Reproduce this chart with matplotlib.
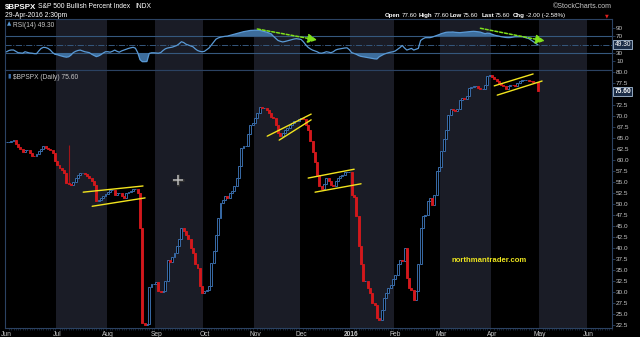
import numpy as np
import pandas as pd
import matplotlib
matplotlib.use("Agg")
import matplotlib.pyplot as plt
import matplotlib.transforms as mtransforms

plt.rcParams['font.family'] = ['Liberation Sans', 'DejaVu Sans']

# trading calendar (index = trading day)
holidays = ['2015-07-03', '2015-09-07', '2015-11-26', '2015-12-25', '2016-01-01',
            '2016-01-18', '2016-02-15', '2016-03-25', '2016-05-30']
days = pd.bdate_range('2015-06-01', '2016-06-17')
days = days[~days.isin(pd.to_datetime(holidays))]

# $BPSPX daily close, Jun 1 2015 .. Apr 29 2016
closes = [
    64.0, 64.0, 64.2, 64.6, 63.6, 63.0, 62.4, 61.8, 62.2, 62.2, 61.6, 61.0, 60.8, 61.4, 62.0, 62.6,
    63.2, 62.8, 62.4, 62.2, 61.6, 59.7,
    58.9, 58.2, 57.8, 57.1, 54.8, 54.6, 54.4, 55.1, 55.8, 56.6, 57.1, 57.1, 56.8, 56.4, 55.9, 55.2,
    54.4, 50.6, 50.9, 51.4, 51.8, 52.2,
    52.8, 53.2, 53.2, 52.1, 52.5, 52.5, 51.8, 51.4, 52.5, 52.8, 53.0, 53.4, 53.4, 52.6, 44.5, 23.0,
    22.6, 22.8, 31.1, 31.9, 31.9,
    32.4, 30.2, 30.0, 30.4, 32.5, 37.4, 36.9, 38.0, 38.8, 40.4, 42.0, 44.6, 44.0, 43.0, 42.0, 40.1,
    38.9, 36.3, 35.5, 31.4, 29.8,
    30.2, 30.6, 31.4, 36.6, 39.3, 43.0, 46.9, 50.3, 51.0, 51.8, 51.4, 52.4, 52.9, 54.0, 55.9, 58.6,
    62.7, 63.1, 63.1, 65.8, 68.0, 68.4,
    69.5, 70.7, 71.9, 71.8, 71.8, 71.4, 70.7, 69.8, 69.5, 68.0, 66.1, 65.4, 66.1, 66.9, 67.3, 68.0,
    68.4, 68.8, 68.8, 69.2,
    69.5, 69.2, 68.0, 66.8, 64.4, 61.9, 59.6, 56.7, 54.0, 53.4, 54.6, 55.9, 55.2, 54.4, 54.0, 55.2,
    55.9, 56.4, 56.7, 57.3, 57.3, 57.3,
    52.1, 51.6, 47.2, 40.4, 36.3, 32.5, 32.5, 31.0, 29.8, 27.6, 27.2, 24.2, 23.8, 25.9, 28.7, 29.8,
    31.0, 31.7, 33.0,
    34.0, 36.3, 37.4, 37.0, 40.0, 33.3, 31.0, 30.6, 28.3, 30.2, 36.3, 44.6, 47.2, 47.6, 50.6, 51.4,
    49.8, 52.1, 57.4, 58.4,
    62.0, 64.8, 66.9, 70.3, 71.6, 71.4, 71.0, 71.6, 73.7, 74.1, 73.8, 74.6, 76.3, 76.5, 76.7, 76.7,
    76.4, 76.0, 76.0, 77.1, 79.0, 79.2,
    78.8, 78.4, 77.8, 77.5, 77.1, 76.7, 76.0, 76.7, 77.1, 76.9, 76.7, 77.5, 77.8, 78.2, 78.2, 78.2,
    77.9, 77.8, 77.6, 77.6, 75.6,
]
wick_days = [27]
wick_highs = [63.4]

# RSI(14)
rsi = [
    33, 36, 37.2, 37.2, 34, 30.7, 30, 29.5, 33, 31.5, 30, 29.5, 28.5, 28.3, 35, 41, 43.6, 43, 41, 37, 31, 27,
    26, 24, 22.5, 21, 20, 21, 25, 31, 34, 36, 37, 35, 33, 32, 30.7, 27, 24, 21.3, 23, 26, 30, 33,
    33, 32, 34, 37, 34, 32, 35, 37, 39, 41, 42.5, 43.6, 41.5, 31, 14, 9.2, 9.2, 9.5, 29, 30.5, 30.5,
    30, 29.5, 31, 36, 40, 42, 43, 44, 46, 48, 52, 57, 55, 51, 49, 47, 45, 40, 36, 34, 33,
    34, 38, 42, 49, 56, 63, 66, 68, 69, 70, 70.5, 72, 73.5, 75, 76.5, 78, 79.5, 81, 82, 83, 84, 84.3,
    84.5, 84.5, 84.3, 83, 81.5, 80, 78, 76, 70, 65, 60, 58, 56.5, 57.5, 59, 60.5, 62, 63.5, 64.3, 63.5,
    62.5, 57, 50, 44, 40, 37, 35, 33, 30, 29.5, 31, 33, 32, 30.7, 33, 37, 39, 40, 41, 42, 42.4, 38,
    31, 29, 27, 24, 22, 21, 20, 19, 18, 17, 16, 15.6, 21, 24, 27, 29, 30.7, 32, 33,
    35, 39, 43, 48, 42, 37, 39, 41, 37, 39, 41, 60, 64, 66.7, 66.7, 66.7, 68, 70, 72, 74,
    76.3, 78, 79.5, 80, 80, 80.3, 79.5, 79, 78.7, 79.3, 80, 80.3, 81, 81.5, 81.9, 81.5, 80.8, 80, 78,
    76.3, 77.5, 77,
    75, 73, 71.5, 70.5, 69, 68, 67.2, 66.8, 67, 68, 68.8, 69, 69, 69, 68, 66, 64.5, 61, 57, 53, 49.3,
]

# hand drawn channels (day index, value) and RSI divergence arrows
channels = [
    [(33.3, 52.7), (59.3, 54.1)], [(37.2, 49.5), (60.2, 51.4)],
    [(113.3, 65.4), (132.4, 70.4)], [(118.5, 64.5), (132.4, 69.1)],
    [(131.1, 55.9), (151.1, 57.9)], [(134.1, 52.7), (154.1, 54.6)],
    [(212.0, 76.8), (228.9, 79.5)], [(213.3, 74.7), (232.8, 77.9)],
]
rsi_arrows = [[(109, 87.5), (135, 61.0)], [(206, 89.2), (234, 58.7)]]

price_ticks = [22.5, 25.0, 27.5, 30.0, 32.5, 35.0, 37.5, 40.0, 42.5, 45.0, 47.5, 50.0, 52.5,
               55.0, 57.5, 60.0, 62.5, 65.0, 67.5, 70.0, 72.5, 77.5, 80.0]
rsi_ticks = [10, 30, 70, 90]

BG = 'black'
BAND = '#1a1c26'
SPINE = '#2b4262'
TXT = '#c8c8c8'
UP = '#3c72b2'
DOWN = '#d2181c'

closes = np.array(closes)
rsi = np.array(rsi)
n = len(closes)
x = np.arange(n)
opens = np.r_[closes[0], closes[:-1]]

fig = plt.figure(figsize=(6.4, 3.37), dpi=100, facecolor=BG)
W, H = 640.0, 337.0
ax_rsi = fig.add_axes([5 / W, 1 - 70 / H, 607 / W, 51 / H], facecolor=BG)
ax = fig.add_axes([5 / W, 1 - 328 / H, 607 / W, 258 / H], facecolor=BG)

starts = [0] + [k for k in range(1, len(days)) if days[k].month != days[k - 1].month]
labels = [str(days[k].year) if days[k].month == 1 else days[k].strftime('%b') for k in starts]
bounds = starts + [len(days)]
for a in (ax, ax_rsi):
    for j, s in enumerate(starts):
        if days[s].month % 2 == 1:
            a.axvspan(s - 0.5, bounds[j + 1] - 0.5, color=BAND, lw=0, zorder=0)
    a.set_xlim(-0.7, 263.2)
    for sp in a.spines.values():
        sp.set_color(SPINE)
        sp.set_linewidth(0.8)
    a.yaxis.tick_right()
    a.tick_params(axis='y', length=2, width=0.6, color=SPINE, labelsize=4.6,
                  labelcolor=TXT, pad=1)

# candles: open = previous close
up = closes >= opens
lo = np.minimum(opens, closes)
hgt = np.abs(closes - opens)
ax.bar(x[up], hgt[up], bottom=lo[up], width=0.85, facecolor=BG, edgecolor=UP, linewidth=0.65, zorder=3)
ax.bar(x[~up], hgt[~up], bottom=lo[~up], width=0.85, facecolor=DOWN, edgecolor=DOWN, linewidth=0.65, zorder=3)
for d, hi in zip(wick_days, wick_highs):
    ax.vlines(d, closes[d], hi, color='#a01418', lw=0.8, zorder=2)

ax.set_ylim(21.9, 80.4)
ax.set_yticks(price_ticks)
ax.set_yticklabels(['%.1f' % t for t in price_ticks])
ax.set_xticks(starts)
ax.set_xticklabels(labels)
ax.tick_params(axis='x', length=0, labelsize=4.8, labelcolor=TXT, pad=2.5)
for lbl in ax.get_xticklabels():
    if lbl.get_text() == '2016':
        lbl.set_fontweight('bold')
ax.xaxis.set_minor_locator(matplotlib.ticker.MultipleLocator(1))
ax.tick_params(axis='x', which='minor', length=1.2, width=0.4, color=SPINE)

for (x0, y0), (x1, y1) in channels:
    ax.plot([x0, x1], [y0, y1], color='#f2e41e', lw=1.0, zorder=5, solid_capstyle='round')

ax.plot([74.6], [55.5], marker='+', ms=8, mew=2.2, color='#333333', zorder=6)
ax.plot([74.6], [55.5], marker='+', ms=7, mew=1.1, color='#b8b8b8', zorder=7)
ax.text(209.8, 37.3, 'northmantrader.com', color='#ece41e', fontsize=5.6,
        fontweight='bold', ha='center', va='center', zorder=6)

trans = mtransforms.blended_transform_factory(ax.transAxes, ax.transData)
ax.text(1.004, closes[-1], '%.2f' % closes[-1], transform=trans, fontsize=4.8, color='white',
        fontweight='bold', ha='left', va='center', zorder=8,
        bbox=dict(boxstyle='square,pad=0.15', fc='#1b2c46', ec='#a9bfd8', lw=0.6))
ax.text(0.004, 0.985, '\u25ae', transform=ax.transAxes, fontsize=4.5, color=UP, ha='left',
        va='top', family=['DejaVu Sans'])
ax.text(0.013, 0.985, r'\$BPSPX (Daily) %.2f' % closes[-1], transform=ax.transAxes,
        fontsize=4.8, color=TXT, ha='left', va='top')

# RSI panel
ax_rsi.plot(x, rsi, color='#5a9ad6', lw=0.9, zorder=4)
ax_rsi.fill_between(x, rsi, 70, where=rsi > 70, interpolate=True, color='#3d6d9c', lw=0, zorder=3)
ax_rsi.fill_between(x, rsi, 30, where=rsi < 30, interpolate=True, color='#3d6d9c', lw=0, zorder=3)
for lvl in (70, 30):
    ax_rsi.axhline(lvl, color='#35587e', lw=0.8, zorder=2)
ax_rsi.axhline(50, color='#35587e', lw=0.7, ls='-.', zorder=2)
ax_rsi.set_ylim(-10.7, 111.4)
ax_rsi.set_yticks(rsi_ticks)
ax_rsi.set_xticks([])
trans_r = mtransforms.blended_transform_factory(ax_rsi.transAxes, ax_rsi.transData)
ax_rsi.text(1.004, rsi[-1], '%.2f' % rsi[-1], transform=trans_r, fontsize=4.8, color='white',
            ha='left', va='center', zorder=8,
            bbox=dict(boxstyle='square,pad=0.15', fc='#1b2c46', ec='#a9bfd8', lw=0.6))
ax_rsi.text(0.004, 0.95, '\u25b2', transform=ax_rsi.transAxes, fontsize=4, color='#5a9ad6',
            ha='left', va='top', family=['DejaVu Sans'])
ax_rsi.text(0.013, 0.95, 'RSI(14) %.2f' % rsi[-1], transform=ax_rsi.transAxes, fontsize=4.8,
            color=TXT, ha='left', va='top')
for (x0, y0), (x1, y1) in rsi_arrows:
    ax_rsi.annotate('', xy=(x1, y1), xytext=(x0, y0), zorder=6,
                    arrowprops=dict(arrowstyle='-|>,head_length=0.6,head_width=0.3',
                                    color='#7fe01c', lw=1.1, linestyle=(0, (2, 1.2)),
                                    mutation_scale=9, shrinkA=0, shrinkB=0))

# header
def px(xp, yp):
    return xp / W, 1 - yp / H

fig.text(*px(5, 7), r'\$BPSPX', fontsize=5.8, fontweight='bold', color='white', va='center')
fig.text(*px(38, 7), 'S&P 500 Bullish Percent Index', fontsize=4.9, color='white', va='center')
fig.text(*px(135, 7), 'INDX', fontsize=4.9, color='white', va='center')
fig.text(*px(5, 15.5), '29-Apr-2016 2:30pm', fontsize=4.9, color='white', va='center')
fig.text(*px(612, 7), '\u00a9StockCharts.com', fontsize=5.0, color=TXT, va='center', ha='right')
header = [(385, 'Open', True), (402, '77.60', False), (419, 'High', True), (434, '77.60', False),
          (450, 'Low', True), (463, '75.60', False), (482, 'Last', True), (495, '75.60', False),
          (513, 'Chg', True), (526, '-2.00 (-2.58%)', False)]
for xp, s, b in header:
    fig.text(*px(xp, 15.5), s, fontsize=4.4, color='white', va='center',
             fontweight='bold' if b else 'normal')
fig.text(*px(605, 16), '\u25bc', fontsize=3.5, color='#e02020', va='center', family=['DejaVu Sans'])

fig.savefig('out.png', dpi=100, facecolor=BG)
